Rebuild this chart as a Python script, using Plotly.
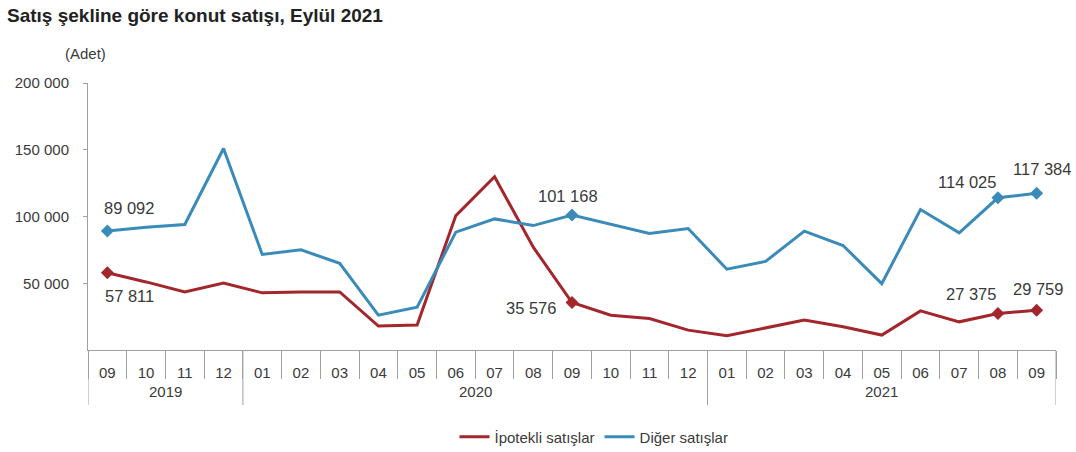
import plotly.graph_objects as go

years = ["2019"] * 4 + ["2020"] * 12 + ["2021"] * 9
months = ["09", "10", "11", "12",
          "01", "02", "03", "04", "05", "06", "07", "08", "09", "10", "11", "12",
          "01", "02", "03", "04", "05", "06", "07", "08", "09"]
ipotekli = [57811, 51000, 43500, 50200,
            42800, 43500, 43500, 17900, 18700, 100700, 129800, 77000, 35576, 26100, 23600, 14900,
            10700, 16600, 22400, 17400, 11200, 29300, 21100, 27375, 29759]
diger = [89092, 92000, 94000, 150900,
         71600, 75000, 65000, 26100, 32000, 88300, 98200, 93200, 101168, 94500, 87300, 91000,
         60500, 66400, 89000, 78300, 49700, 105200, 87800, 114025, 117384]
ytick_vals = [50000, 100000, 150000, 200000]
labeled_idx = [0, 12, 23, 24]

RED = "#A3262C"
BLUE = "#3A8BBA"
AXC = "#a0a0a0"
TXT = "#3a3a3a"
FONT = "Liberation Sans, Arial, sans-serif"

L, R, T, B = 88, 20, 83, 102
W, H = 1076, 452
pw, ph = W - L - R, H - T - B


def fmt(v):
    return f"{v:,}".replace(",", " ")


def py(px):  # pixel y -> paper y
    return (H - B - px) / ph


def pxx(px):  # pixel x -> paper x
    return (px - L) / pw


n = len(months)
xs = list(range(n))
lx = [xs[i] for i in labeled_idx]

fig = go.Figure()
for name, series, col in (("İpotekli satışlar", ipotekli, RED), ("Diğer satışlar", diger, BLUE)):
    fig.add_trace(go.Scatter(x=xs, y=series, mode="lines", name=name,
                             line=dict(color=col, width=3)))
for series, col in ((ipotekli, RED), (diger, BLUE)):
    fig.add_trace(go.Scatter(x=lx, y=[series[i] for i in labeled_idx], mode="markers",
                             showlegend=False, hoverinfo="skip",
                             marker=dict(symbol="diamond", size=10, color=col)))

# value labels, offsets in px
offs_d = {0: (22, -23), 12: (-4, -19), 23: (-31, -16), 24: (5, -24)}
offs_i = {0: (22, 23), 12: (-41, 5), 23: (-27, -19), 24: (1, -21)}
anns = []
for series, offs in ((diger, offs_d), (ipotekli, offs_i)):
    for i in labeled_idx:
        ax, ay = offs[i]
        anns.append(dict(x=xs[i], y=series[i], xref="x", yref="y", text=fmt(series[i]),
                         showarrow=True, ax=ax, ay=ay, arrowcolor="rgba(0,0,0,0)",
                         font=dict(family=FONT, size=16.5, color=TXT)))

anns.append(dict(x=pxx(63), y=py(54), xref="paper", yref="paper", text="(Adet)",
                 showarrow=False, xanchor="left", yanchor="middle",
                 font=dict(family=FONT, size=15, color=TXT)))

# year groups: labels and dividers
groups = []
for i, yv in enumerate(years):
    if not groups or groups[-1][0] != yv:
        groups.append([yv, i, i])
    else:
        groups[-1][2] = i
shapes = []
for yv, a, b in groups:
    anns.append(dict(x=(a + b) / 2, y=py(391), xref="x", yref="paper", text=yv,
                     showarrow=False, yanchor="middle",
                     font=dict(family=FONT, size=15, color=TXT)))
    shapes.append(dict(type="line", xref="x", yref="paper", x0=a - 0.5, x1=a - 0.5,
                       y0=0, y1=py(405), line=dict(color=AXC, width=1)))
shapes.append(dict(type="line", xref="x", yref="paper", x0=n - 0.5, x1=n - 0.5,
                   y0=0, y1=py(405), line=dict(color=AXC, width=1)))

fig.update_layout(
    width=W, height=H,
    margin=dict(l=L, r=R, t=T, b=B, autoexpand=False),
    paper_bgcolor="white", plot_bgcolor="white",
    title=dict(text="<b>Satış şekline göre konut satışı, Eylül 2021</b>",
               xref="container", yref="container", x=7 / W, y=1 - 15 / H,
               xanchor="left", yanchor="middle",
               font=dict(family=FONT, size=19, color="#222222")),
    showlegend=True,
    legend=dict(orientation="h", x=pxx(594), y=py(437), xanchor="center", yanchor="middle",
                font=dict(family=FONT, size=15, color=TXT), itemwidth=30,
                bgcolor="rgba(0,0,0,0)"),
    font=dict(family=FONT, color=TXT),
    annotations=anns, shapes=shapes,
)
fig.update_yaxes(range=[0, 200000], tickvals=ytick_vals, ticktext=[fmt(v) for v in ytick_vals],
                 showline=True, linecolor=AXC, linewidth=1, ticks="outside", ticklen=4,
                 tickcolor=AXC, showgrid=False, zeroline=False, automargin=False,
                 ticklabelstandoff=11,
                 tickfont=dict(family=FONT, size=15, color=TXT))
fig.update_xaxes(range=[-0.5, n - 0.5], tickmode="array", tickvals=xs, ticktext=months,
                 showline=True, linecolor=AXC, linewidth=1, ticks="",
                 minor=dict(tickmode="array", tickvals=[i - 0.5 for i in range(n + 1)],
                            ticks="outside", ticklen=28, tickcolor=AXC, tickwidth=1,
                            showgrid=False),
                 ticklabelstandoff=9,
                 showgrid=False, zeroline=False, automargin=False,
                 tickfont=dict(family=FONT, size=15, color=TXT))

fig.write_html("out.html", config={"displayModeBar": False},
               post_script="document.body.style.margin='0';document.body.style.overflow='hidden';")
